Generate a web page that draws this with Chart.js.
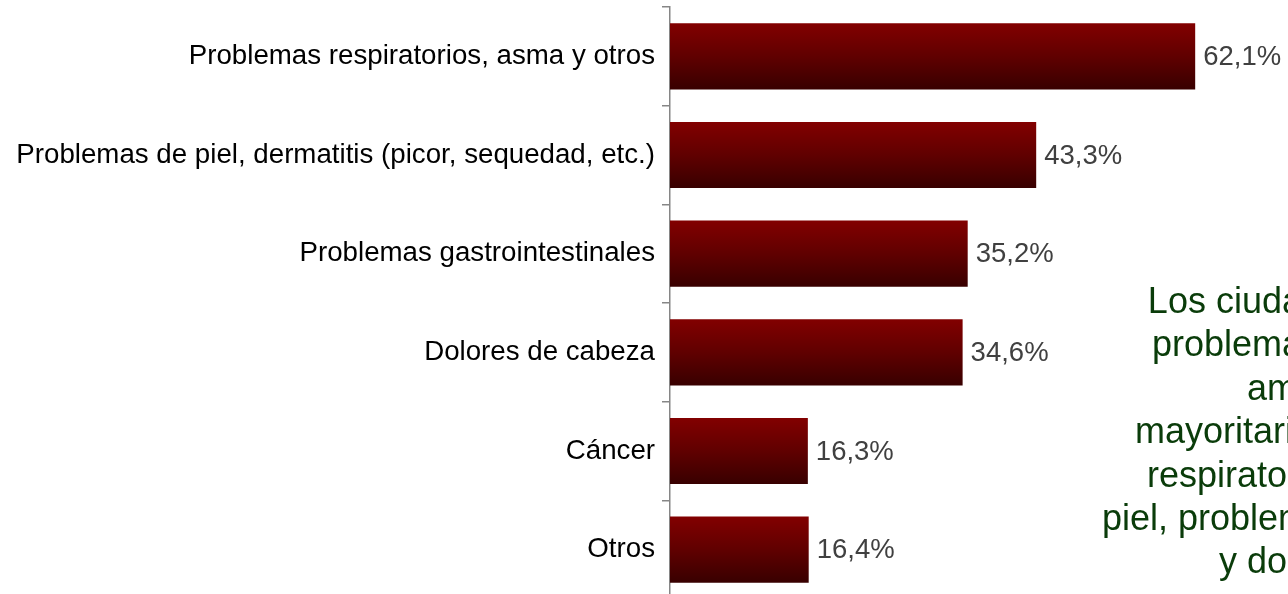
<!DOCTYPE html>
<html>
<head>
<meta charset="utf-8">
<script src="https://cdn.jsdelivr.net/npm/chart.js@4/dist/chart.umd.min.js"></script>
<style>
  html, body { margin: 0; padding: 0; background: #fff; overflow: hidden; }
  #wrap { width: 1288px; height: 600px; }
</style>
</head>
<body>
<div id="wrap"><canvas id="bars"></canvas></div>
<script>
const categories = [
  'Problemas respiratorios, asma y otros',
  'Problemas de piel, dermatitis (picor, sequedad, etc.)',
  'Problemas gastrointestinales',
  'Dolores de cabeza',
  'Cáncer',
  'Otros',
];
const values = [62.1, 43.3, 35.2, 34.6, 16.3, 16.4];

// cuadro de texto verde (queda cortado por el borde derecho)
const noteLines = [
  'Los ciudadanos que',
  'problemas de salud',
  'amplios',
  'mayoritariamente que',
  'respiratorios, y de la',
  'piel, problemas digestivos',
  'y dolencias',
];

const FONT = '"Liberation Sans", Arial, sans-serif';
const BAR_PCT = 0.67;
const fmt = (v) => v.toFixed(1).replace('.', ',') + '%';

// etiquetas de valor a la derecha de cada barra
const valueLabels = {
  id: 'valueLabels',
  afterDatasetsDraw(chart) {
    const ctx = chart.ctx;
    const meta = chart.getDatasetMeta(0);
    ctx.save();
    ctx.font = '27.5px ' + FONT;
    ctx.fillStyle = '#404040';
    ctx.textAlign = 'left';
    ctx.textBaseline = 'middle';
    meta.data.forEach((bar, i) => {
      ctx.fillText(fmt(values[i]), bar.x + 8, bar.y + 1);
    });
    ctx.restore();
  },
};

const noteBox = {
  id: 'noteBox',
  afterDraw(chart) {
    const ctx = chart.ctx;
    ctx.save();
    ctx.font = '36px ' + FONT;
    ctx.fillStyle = '#0a3c0a';
    ctx.textAlign = 'center';
    ctx.textBaseline = 'alphabetic';
    noteLines.forEach((line, i) => {
      ctx.fillText(line, 1309, 313 + i * 43.4);
    });
    ctx.restore();
  },
};

// degradado vertical en cada barra, calculado desde la escala de categorías
function barGradient(context) {
  const chart = context.chart;
  const y = chart.scales && chart.scales.y;
  if (!y || !chart.chartArea) return '#800000';
  const center = y.getPixelForValue(context.dataIndex);
  const band = (y.bottom - y.top) / categories.length;
  const h = band * BAR_PCT;
  const top = center - h / 2;
  const g = chart.ctx.createLinearGradient(0, top, 0, top + h);
  g.addColorStop(0, '#820000');
  g.addColorStop(0.5, '#600000');
  g.addColorStop(1, '#380000');
  return g;
}

new Chart(document.getElementById('bars'), {
  type: 'bar',
  data: {
    labels: categories,
    datasets: [{
      data: values,
      backgroundColor: barGradient,
      borderWidth: 0,
      barPercentage: BAR_PCT,
      categoryPercentage: 1,
    }],
  },
  options: {
    indexAxis: 'y',
    responsive: true,
    maintainAspectRatio: false,
    animation: false,
    layout: { padding: { top: 7, right: 26, bottom: 1, left: 0 } },
    plugins: { legend: { display: false }, tooltip: { enabled: false } },
    scales: {
      x: { display: false, min: 0, max: 70 },
      y: {
        afterFit: (scale) => {
          scale.width = 670;
          scale.paddingTop = 0;
          scale.paddingBottom = 0;
        },
        border: { display: true, color: '#868686', width: 1.5 },
        grid: { offset: true, drawOnChartArea: false, drawTicks: true, tickLength: 8, color: '#868686', lineWidth: 1.5 },
        ticks: { color: '#000', padding: 7, font: { family: FONT, size: 27.7 } },
      },
    },
  },
  plugins: [valueLabels, noteBox],
});
</script>
</body>
</html>
